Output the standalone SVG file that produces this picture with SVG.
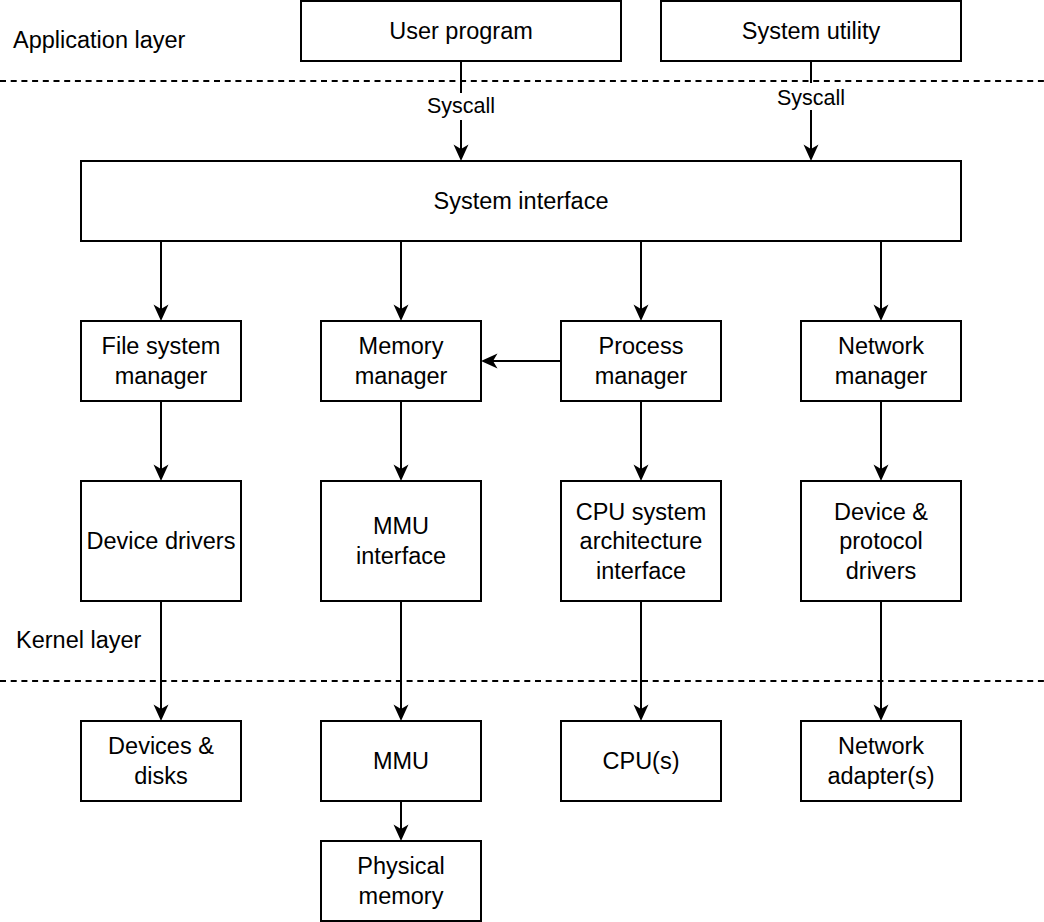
<svg xmlns="http://www.w3.org/2000/svg" width="1044" height="922" viewBox="0 0 1044 922">
<style>
.box{fill:#fff;stroke:#000;stroke-width:2}
.t{font-family:"Liberation Sans",Arial,sans-serif;font-size:23.5px;fill:#000;text-anchor:middle}
.l{font-family:"Liberation Sans",Arial,sans-serif;font-size:23.5px;fill:#000}
.s{font-family:"Liberation Sans",Arial,sans-serif;font-size:21.5px;fill:#000;text-anchor:middle}
.e{fill:none;stroke:#000;stroke-width:2}
.d{fill:none;stroke:#000;stroke-width:2;stroke-dasharray:6 4.7}
</style>
<defs>
<marker id="arr" viewBox="-6 -8 20 16" refX="0" refY="0" markerWidth="20" markerHeight="16" markerUnits="userSpaceOnUse" orient="auto">
<path d="M12,0 L-4.5,-7.5 L0,0 L-4.5,7.5 Z" fill="#000"/>
</marker>
</defs>
<rect width="1044" height="922" fill="#fff"/>
<g id="layers">
<line class="d" x1="0" y1="81" x2="1044" y2="81"/>
<line class="d" x1="0" y1="681" x2="1044" y2="681"/>
<text class="l" x="13" y="48">Application layer</text>
<text class="l" x="16" y="648">Kernel layer</text>
</g>
<g id="connectors">
<line class="e" x1="461" y1="61" x2="461" y2="149" marker-end="url(#arr)"/>
<line class="e" x1="811" y1="61" x2="811" y2="149" marker-end="url(#arr)"/>
<rect x="426" y="93" width="70" height="27" fill="#fff"/>
<text class="s" x="461" y="113">Syscall</text>
<rect x="776" y="83" width="70" height="27" fill="#fff"/>
<text class="s" x="811" y="105">Syscall</text>
<line class="e" x1="161" y1="241" x2="161" y2="309" marker-end="url(#arr)"/>
<line class="e" x1="401" y1="241" x2="401" y2="309" marker-end="url(#arr)"/>
<line class="e" x1="641" y1="241" x2="641" y2="309" marker-end="url(#arr)"/>
<line class="e" x1="881" y1="241" x2="881" y2="309" marker-end="url(#arr)"/>
<line class="e" x1="561" y1="361" x2="493" y2="361" marker-end="url(#arr)"/>
<line class="e" x1="161" y1="401" x2="161" y2="469" marker-end="url(#arr)"/>
<line class="e" x1="401" y1="401" x2="401" y2="469" marker-end="url(#arr)"/>
<line class="e" x1="641" y1="401" x2="641" y2="469" marker-end="url(#arr)"/>
<line class="e" x1="881" y1="401" x2="881" y2="469" marker-end="url(#arr)"/>
<line class="e" x1="161" y1="601" x2="161" y2="709" marker-end="url(#arr)"/>
<line class="e" x1="401" y1="601" x2="401" y2="709" marker-end="url(#arr)"/>
<line class="e" x1="641" y1="601" x2="641" y2="709" marker-end="url(#arr)"/>
<line class="e" x1="881" y1="601" x2="881" y2="709" marker-end="url(#arr)"/>
<line class="e" x1="401" y1="801" x2="401" y2="829" marker-end="url(#arr)"/>
</g>
<g id="user-program"><rect class="box" x="301" y="1" width="320" height="60"/><text class="t" x="461" y="38.7">User program</text></g>
<g id="system-utility"><rect class="box" x="661" y="1" width="300" height="60"/><text class="t" x="811" y="38.7">System utility</text></g>
<g id="system-interface"><rect class="box" x="81" y="161" width="880" height="80"/><text class="t" x="521" y="208.7">System interface</text></g>
<g id="file-system-manager"><rect class="box" x="81" y="321" width="160" height="80"/><text class="t" x="161" y="354.3">File system</text><text class="t" x="161" y="383.8">manager</text></g>
<g id="memory-manager"><rect class="box" x="321" y="321" width="160" height="80"/><text class="t" x="401" y="354.3">Memory</text><text class="t" x="401" y="383.8">manager</text></g>
<g id="process-manager"><rect class="box" x="561" y="321" width="160" height="80"/><text class="t" x="641" y="354.3">Process</text><text class="t" x="641" y="383.8">manager</text></g>
<g id="network-manager"><rect class="box" x="801" y="321" width="160" height="80"/><text class="t" x="881" y="354.3">Network</text><text class="t" x="881" y="383.8">manager</text></g>
<g id="device-drivers"><rect class="box" x="81" y="481" width="160" height="120"/><text class="t" x="161" y="548.7">Device drivers</text></g>
<g id="mmu-interface"><rect class="box" x="321" y="481" width="160" height="120"/><text class="t" x="401" y="534.3">MMU</text><text class="t" x="401" y="563.8">interface</text></g>
<g id="cpu-arch-interface"><rect class="box" x="561" y="481" width="160" height="120"/><text class="t" x="641" y="519.5">CPU system</text><text class="t" x="641" y="549">architecture</text><text class="t" x="641" y="578.5">interface</text></g>
<g id="protocol-drivers"><rect class="box" x="801" y="481" width="160" height="120"/><text class="t" x="881" y="519.5">Device &amp;</text><text class="t" x="881" y="549">protocol</text><text class="t" x="881" y="578.5">drivers</text></g>
<g id="devices-disks"><rect class="box" x="81" y="721" width="160" height="80"/><text class="t" x="161" y="754.3">Devices &amp;</text><text class="t" x="161" y="783.8">disks</text></g>
<g id="mmu"><rect class="box" x="321" y="721" width="160" height="80"/><text class="t" x="401" y="768.5">MMU</text></g>
<g id="cpus"><rect class="box" x="561" y="721" width="160" height="80"/><text class="t" x="641" y="768.5">CPU(s)</text></g>
<g id="network-adapters"><rect class="box" x="801" y="721" width="160" height="80"/><text class="t" x="881" y="754.3">Network</text><text class="t" x="881" y="783.8">adapter(s)</text></g>
<g id="physical-memory"><rect class="box" x="321" y="841" width="160" height="80"/><text class="t" x="401" y="874.3">Physical</text><text class="t" x="401" y="903.8">memory</text></g>
</svg>
